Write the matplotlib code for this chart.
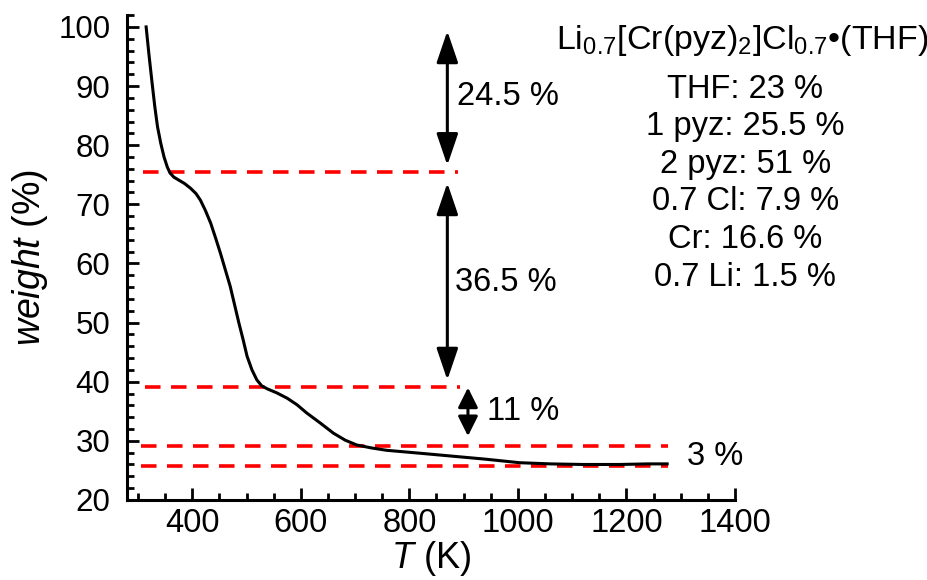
import numpy as np
import matplotlib
matplotlib.use("Agg")
import matplotlib.pyplot as plt
from matplotlib.ticker import MultipleLocator

plt.rcParams['font.family'] = ['Liberation Sans', 'DejaVu Sans']
plt.rcParams['mathtext.fontset'] = 'custom'
plt.rcParams['mathtext.rm'] = 'Liberation Sans'
plt.rcParams['mathtext.it'] = 'Liberation Sans:italic'

# TGA curve
temp_K = [315, 320, 326, 331, 336, 342, 348, 354, 359, 366, 375, 386, 397, 407,
          415, 424, 434, 443, 452, 461, 470, 478, 486, 494, 501, 510, 519, 528,
          538, 556, 575, 593, 611, 636, 660, 682, 703, 730, 758, 820, 880, 940,
          1003, 1060, 1120, 1187, 1240, 1275]
weight_pct = [100.0, 95.5, 90.5, 86.5, 83.1, 80.3, 78.0, 76.3, 75.3, 74.6, 74.1,
              73.5, 72.7, 71.8, 70.7, 69.0, 66.8, 64.3, 61.7, 58.9, 56.1, 53.0,
              49.9, 47.0, 44.3, 42.0, 40.3, 39.3, 38.8, 38.1, 37.2, 36.1, 34.7,
              33.0, 31.3, 30.1, 29.3, 28.8, 28.4, 27.9, 27.4, 26.9, 26.3, 26.1,
              26.0, 26.0, 26.1, 26.1]

# red dashed step levels: (weight, T start, T end)
levels = [75.4, 39.1, 29.2, 25.8]
level_start = [309, 313, 306, 306]
level_end = [889, 893, 1276, 1276]

# arrows (x, y top, y bottom) and labels
arrow_x = [870, 870, 908]
arrow_top = [99.3, 73.6, 39.0]
arrow_bot = [76.6, 40.3, 30.8]
step_labels = ["24.5 %", "36.5 %", "11 %", "3 %"]
label_T = [887, 885, 944, 1312]
label_W = [88.2, 56.7, 34.9, 27.3]

formula = r"Li$_{0.7}$[Cr(pyz)$_{2}$]Cl$_{0.7}$•(THF)"
composition = ["THF: 23 %", "1 pyz: 25.5 %", "2 pyz: 51 %",
               "0.7 Cl: 7.9 %", "Cr: 16.6 %", "0.7 Li: 1.5 %"]

fig = plt.figure(figsize=(9.28, 5.8), dpi=100)
ax = fig.add_axes([0.137, 0.138, 0.655, 0.836])

ax.plot(temp_K, weight_pct, color='k', lw=2.2, zorder=3)

for w, t0, t1 in zip(levels, level_start, level_end):
    ax.plot([t0, t1], [w, w], color='#ff0000', lw=2.6, dashes=(4.3, 2.9),
            zorder=2)

heads = ['<|-|>,head_length=0.97,head_width=0.33',
         '<|-|>,head_length=0.97,head_width=0.33',
         '<|-|>,head_length=0.6,head_width=0.3']
for x, y0, y1, hs in zip(arrow_x, arrow_top, arrow_bot, heads):
    ax.annotate("", xy=(x, y1), xytext=(x, y0),
                arrowprops=dict(arrowstyle=hs, mutation_scale=20, lw=2.2,
                                color='k', shrinkA=0, shrinkB=0))

for s, t, w in zip(step_labels, label_T, label_W):
    ax.text(t, w, s, fontsize=23.5, ha='left', va='center', clip_on=False)

fig.text(0.800, 1 - 40 / 580, formula, fontsize=24.5, ha='center', va='center')
for i, line in enumerate(composition):
    fig.text(0.803, 1 - (89 + 37.6 * i) / 580, line, fontsize=23.5,
             ha='center', va='center')

ax.set_xlim(280, 1400)
ax.set_ylim(20, 102)
ax.xaxis.set_major_locator(MultipleLocator(200))
ax.xaxis.set_minor_locator(MultipleLocator(50))
ax.yaxis.set_major_locator(MultipleLocator(10))
ax.yaxis.set_minor_locator(MultipleLocator(2))
ax.set_xticks([400, 600, 800, 1000, 1200, 1400])
ax.set_yticks(range(20, 101, 10))

ax.spines['top'].set_visible(False)
ax.spines['right'].set_visible(False)
for sp in ['left', 'bottom']:
    ax.spines[sp].set_linewidth(2.2)

ax.tick_params(which='both', direction='in', width=2.0)
ax.tick_params(which='major', length=8.5)
ax.tick_params(which='minor', length=5)
ax.tick_params(axis='y', which='major', pad=12, labelsize=22.5)
ax.tick_params(axis='x', which='major', pad=6, labelsize=23.5)

ax.set_xlabel(r"$T$ (K)", fontsize=26, labelpad=0)
ax.set_ylabel(r"$weight$ (%)", fontsize=27, labelpad=6)

fig.savefig("out.png", dpi=100)
